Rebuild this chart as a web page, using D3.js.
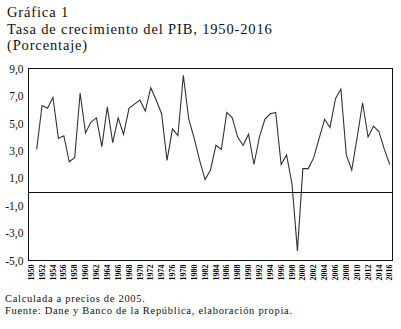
<!DOCTYPE html>
<html><head><meta charset="utf-8">
<script src="https://cdn.jsdelivr.net/npm/d3@7"></script>
<style>body{margin:0;background:#fff}svg{display:block}text{font-family:"Liberation Serif",serif}</style>
</head><body>
<svg id="c" width="401" height="329"></svg>
<script>
const years = d3.range(1950, 2017);
const growthYears = d3.range(1951, 2017);
const growth = [3.1,6.3,6.1,6.9,3.9,4.1,2.2,2.5,7.2,4.3,5.1,5.4,3.3,6.2,3.6,5.4,4.2,6.1,6.4,6.7,5.9,7.6,6.7,5.7,2.3,4.6,4.1,8.5,5.3,3.9,2.3,0.9,1.6,3.4,3.1,5.8,5.4,4.0,3.4,4.2,2.0,4.0,5.3,5.7,5.8,2.0,2.7,0.6,-4.3,1.7,1.7,2.5,3.9,5.3,4.7,6.8,7.5,2.7,1.6,4.0,6.5,4.0,4.8,4.4,3.1,2.0];
const yTicks = [9,7,5,3,1,-1,-3,-5];
const xTickYears = d3.range(1950, 2017, 2);
const titleLines = ["Gráfica 1","Tasa de crecimiento del PIB, 1950-2016","(Porcentaje)"];
const notes = ["Calculada a precios de 2005.","Fuente: Dane y Banco de la República, elaboración propia."];

const svg = d3.select("#c");
const L=28.5, R=392.5, T=68.5, B=260.5;
const x = d3.scaleBand().domain(years).range([L,R]);
const y = d3.scaleLinear().domain([-5,9]).range([B,T]);
const fmt = v => d3.format(".1f")(v).replace(".", ",").replace("−","-");

svg.selectAll("text.t").data(titleLines).join("text").attr("class","t")
  .attr("x",7).attr("y",(d,i)=>17+i*16.5).attr("font-size",14.5).attr("letter-spacing",0.85)
  .attr("fill","#111").text(d=>d);

// y labels
svg.append("g").attr("transform",`translate(${L-5},0)`)
  .call(d3.axisLeft(y).tickValues(yTicks).tickSize(0).tickPadding(0).tickFormat(fmt))
  .call(g=>g.select(".domain").remove())
  .call(g=>g.selectAll("text").attr("font-size",11.5).attr("font-family","Liberation Serif").attr("fill","#111"));

// x labels
const xa = svg.append("g").attr("transform",`translate(0,${B})`)
  .call(d3.axisBottom(x).tickValues(xTickYears).tickSize(0).tickFormat(d3.format("d")));
xa.select(".domain").remove();
xa.selectAll("text").attr("font-size",8).attr("font-family","Liberation Serif").attr("fill","#000")
  .attr("font-weight","bold")
  .attr("transform","rotate(-90)").attr("text-anchor","end").attr("dy","0.33em").attr("x",-4).attr("y",0);

// frame
svg.append("rect").attr("x",L).attr("y",T).attr("width",R-L).attr("height",B-T)
  .attr("fill","none").attr("stroke","#111").attr("stroke-width",1);
// zero line
svg.append("line").attr("x1",L).attr("x2",R).attr("y1",Math.round(y(0))+0.5).attr("y2",Math.round(y(0))+0.5)
  .attr("stroke","#111").attr("stroke-width",1);

const line = d3.line().x((d,i)=>x(growthYears[i])+x.bandwidth()/2).y(d=>y(d));
svg.append("path").datum(growth).attr("d",line).attr("fill","none").attr("stroke","#333").attr("stroke-width",1.1);

svg.selectAll("text.n").data(notes).join("text").attr("class","n")
  .attr("x",5).attr("y",(d,i)=>302+i*11.5).attr("font-size",10.5).attr("letter-spacing",0.7)
  .attr("fill","#111").text(d=>d);
</script>
</body></html>
